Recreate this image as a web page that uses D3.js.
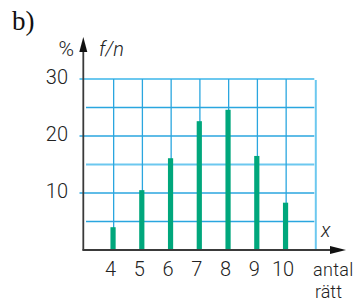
<!DOCTYPE html>
<html><head><meta charset="utf-8">
<script src="https://cdn.jsdelivr.net/npm/d3@7"></script>
<style>body{margin:0;background:#fff}svg{display:block}</style>
</head><body>
<script>
const categories = [4, 5, 6, 7, 8, 9, 10];
const values = [4.0, 10.5, 16.1, 22.6, 24.6, 16.5, 8.3];
const yTicks = [10, 20, 30];
const yHalfLines = [5, 15, 25];

const W = 363, H = 302;
const svg = d3.select("body").append("svg").attr("width", W).attr("height", H);

const x = d3.scaleLinear().domain([3, 11]).range([84.3, 314.3]);
const y = d3.scaleLinear().domain([0, 30]).range([250, 79]);

const gridCol = "#2aa6df", lightCol = "#6cc8ef", axisCol = "#3a3a3a", barCol = "#00a77c";
const font = "Roboto, 'Liberation Sans', sans-serif";

// horizontal full grid lines
svg.append("g").selectAll("line").data(yTicks).join("line")
  .attr("x1", 79.5).attr("x2", x(11)).attr("y1", d => y(d)).attr("y2", d => y(d))
  .attr("stroke", d => d === 30 ? lightCol : gridCol).attr("stroke-width", d => d === 30 ? 2 : 1.3);
// half lines
svg.append("g").selectAll("line").data(yHalfLines).join("line")
  .attr("x1", 86).attr("x2", x(11)).attr("y1", d => y(d)).attr("y2", d => y(d))
  .attr("stroke", d => d === 15 ? lightCol : gridCol).attr("stroke-width", d => d === 15 ? 2 : 1.3);
// vertical grid lines
svg.append("g").selectAll("line").data(categories).join("line")
  .attr("x1", d => x(d) + 0.6).attr("x2", d => x(d) + 0.6).attr("y1", y(30)).attr("y2", y(0))
  .attr("stroke", gridCol).attr("stroke-width", 1.3);
// right border
svg.append("line").attr("x1", x(11) + 1.5).attr("x2", x(11) + 1.5).attr("y1", y(30) + 1).attr("y2", y(0))
  .attr("stroke", lightCol).attr("stroke-width", 2);

// bars
svg.append("g").selectAll("rect").data(values).join("rect")
  .attr("x", (d, i) => x(categories[i]) - 2.6).attr("width", 5.2)
  .attr("y", d => y(d)).attr("height", d => y(0) - y(d))
  .attr("fill", barCol);

// axes
svg.append("line").attr("x1", 83.3).attr("x2", 83.3).attr("y1", 250.5).attr("y2", 50)
  .attr("stroke", axisCol).attr("stroke-width", 1.8);
svg.append("path").attr("d", "M83.3,37 L79.3,52 L87.3,52 Z").attr("fill", "#111");
svg.append("line").attr("x1", 82.5).attr("x2", 332).attr("y1", 250).attr("y2", 250)
  .attr("stroke", axisCol).attr("stroke-width", 1.8);
svg.append("path").attr("d", "M346,250 L330,246 L330,254 Z").attr("fill", "#111");

// y tick labels
svg.append("g").selectAll("text").data(yTicks).join("text")
  .attr("x", 68).attr("y", d => y(d) + 4.5).attr("text-anchor", "end")
  .attr("font-family", font).attr("font-weight", 300).attr("font-size", 20).attr("fill", "#222").text(d => d);

// x tick labels
svg.append("g").selectAll("text").data(categories).join("text")
  .attr("x", d => x(d) - 2.5).attr("y", 276).attr("text-anchor", "middle")
  .attr("font-family", font).attr("font-weight", 300).attr("font-size", 20).attr("fill", "#222").text(d => d);

// titles
svg.append("text").attr("x", 12).attr("y", 30).attr("font-family", "'Liberation Serif', 'DejaVu Serif', serif")
  .attr("font-size", 27).attr("fill", "#111").text("b)");
svg.append("text").attr("x", 74).attr("y", 56).attr("text-anchor", "end").attr("font-family", font)
  .attr("font-weight", 300).attr("font-size", 21).attr("fill", "#222").text("%");
svg.append("text").attr("x", 99).attr("y", 56).attr("font-family", font).attr("font-style", "italic")
  .attr("font-weight", 300).attr("font-size", 20).attr("fill", "#222").text("f/n");
svg.append("text").attr("x", 321).attr("y", 237).attr("font-family", font).attr("font-style", "italic")
  .attr("font-weight", 300).attr("font-size", 20).attr("fill", "#222").text("x");
svg.append("text").attr("x", 313).attr("y", 276).attr("font-family", font)
  .attr("font-weight", 300).attr("font-size", 18).attr("fill", "#222").attr("letter-spacing", 0.3).text("antal");
svg.append("text").attr("x", 315).attr("y", 298).attr("font-family", font)
  .attr("font-weight", 300).attr("font-size", 18).attr("fill", "#222").text("rätt");
</script>
</body></html>
